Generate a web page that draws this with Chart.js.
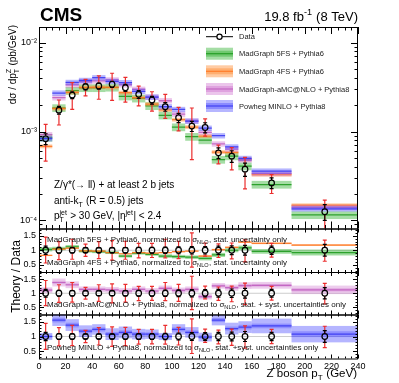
<!DOCTYPE html>
<html lang="en">
<head>
<meta charset="UTF-8">
<title>Z + 2 b jets, Z boson pT</title>
<script src="https://cdn.jsdelivr.net/npm/chart.js@4.4.0/dist/chart.umd.min.js"></script>
<style>
    body{ margin:0; background:#fff; }
    #wrap{ position:relative; width:399px; height:383px; }
    #wrap canvas{ position:absolute; left:0; top:0; }
</style>
</head>
<body>
<div id="wrap">
    <canvas id="main" width="399" height="383"></canvas>
    <canvas id="r1" width="399" height="383"></canvas>
    <canvas id="r2" width="399" height="383"></canvas>
    <canvas id="r3" width="399" height="383"></canvas>
</div>
<script>
// bins in Z pT (GeV)
var binLo  = [0,10,20,30,40,50,60,70,80,90,100,110,120,130,140,150,160,190];
var binHi  = [10,20,30,40,50,60,70,80,90,100,110,120,130,140,150,160,190,240];
var binMid = [5,15,25,35,45,55,65,75,85,95,105,115,125,135,145,155,175,215];

// data, pb/GeV, with relative errors
var dataVal = [8.28e-4,1.74e-3,2.57e-3,3.19e-3,3.25e-3,3.40e-3,3.11e-3,2.62e-3,2.26e-3,1.90e-3,1.43e-3,1.15e-3,1.11e-3,5.75e-4,5.28e-4,3.77e-4,2.64e-4,1.25e-4];
var totUp   = [0.45,0.30,0.38,0.21,0.30,0.33,0.31,0.24,0.24,0.38,0.31,0.60,0.25,0.22,0.25,0.36,0.24,0.35];
var totDn   = [0.44,0.32,0.31,0.21,0.29,0.34,0.31,0.26,0.25,0.26,0.29,0.58,0.20,0.25,0.30,0.40,0.24,0.38];
var statErr = [0.14,0.10,0.09,0.08,0.08,0.08,0.09,0.10,0.10,0.11,0.12,0.13,0.13,0.14,0.15,0.17,0.14,0.20];

// predictions in the top panel
var mg5Main    = [8.55e-4,1.84e-3,2.88e-3,3.09e-3,3.09e-3,3.13e-3,2.49e-3,2.36e-3,1.94e-3,1.52e-3,1.12e-3,8.74e-4,8.0e-4,4.83e-4,5.28e-4,4.07e-4,2.53e-4,1.15e-4];
var mg4Main    = [6.81e-4,1.81e-3,2.75e-3,3.13e-3,3.15e-3,3.13e-3,2.74e-3,2.41e-3,2.03e-3,1.75e-3,1.36e-3,1.12e-3,8.88e-4,5.87e-4,5.81e-4,4.83e-4,3.27e-4,1.48e-4];
var amcMain    = [9.21e-4,2.40e-3,3.34e-3,3.64e-3,3.71e-3,3.81e-3,3.36e-3,2.99e-3,2.44e-3,2.22e-3,1.57e-3,1.31e-3,9.77e-4,7.25e-4,6.34e-4,4.79e-4,3.38e-4,1.40e-4];
var powhegMain = [8.30e-4,2.71e-3,3.57e-3,3.76e-3,4.03e-3,3.67e-3,3.55e-3,2.83e-3,2.44e-3,1.90e-3,1.77e-3,1.31e-3,1.09e-3,8.97e-4,6.71e-4,4.98e-4,3.59e-4,1.35e-4];
var mainBandUnc = [0.10, 0.05, 0.07, 0.07]; // mg5, mg4, amc, powheg

// theory / data
var mg5Ratio    = [1.03,1.06,1.12,0.97,0.95,0.92,0.80,0.90,0.86,0.80,0.78,0.76,0.72,0.84,1.00,1.08,0.96,0.92];
var mg4Ratio    = [0.82,1.04,1.07,0.98,0.97,0.92,0.88,0.92,0.90,0.92,0.95,0.97,0.80,1.02,1.10,1.28,1.24,1.18];
var amcRatio    = [1.11,1.38,1.30,1.14,1.14,1.12,1.08,1.14,1.08,1.17,1.10,1.14,0.88,1.26,1.20,1.27,1.28,1.12];
var powhegRatio = [1.00,1.56,1.39,1.18,1.24,1.08,1.14,1.08,1.08,1.00,1.24,1.14,0.98,1.56,1.27,1.32,1.36,1.08];
var mg5Unc     = [0.07,0.06,0.06,0.05,0.05,0.05,0.05,0.05,0.05,0.06,0.06,0.06,0.07,0.07,0.07,0.08,0.08,0.10];
var mg4Unc     = [0.02,0.02,0.02,0.02,0.02,0.02,0.02,0.02,0.02,0.02,0.02,0.02,0.03,0.03,0.03,0.03,0.03,0.03];
var amcTot     = [0.10,0.14,0.12,0.10,0.10,0.10,0.10,0.10,0.10,0.10,0.10,0.10,0.10,0.10,0.11,0.12,0.12,0.15];
var amcStat    = [0.05,0.06,0.05,0.04,0.04,0.04,0.04,0.04,0.04,0.04,0.05,0.05,0.05,0.05,0.05,0.06,0.05,0.06];
var powhegTot  = [0.12,0.20,0.20,0.20,0.18,0.20,0.20,0.18,0.16,0.12,0.18,0.18,0.15,0.18,0.20,0.20,0.25,0.28];
var powhegStat = [0.06,0.08,0.08,0.07,0.07,0.07,0.07,0.07,0.06,0.06,0.07,0.07,0.06,0.07,0.07,0.08,0.08,0.10];

// axes
var xTicks = [0,20,40,60,80,100,120,140,160,180,200,220,240];
var mainYTicks = [1e-4, 1e-3, 1e-2];
var mainYLabels = ['10\u207B\u2074', '10\u207B\u00B3', '10\u207B\u00B2'];
var ratioTicks = [0.5, 1, 1.5];

var FONT = "'Liberation Sans', Arial, Helvetica, sans-serif";
var LEFT = 39, RIGHT = 358;

var GREEN  = { fill:'rgba(40,175,40,0.42)',  line:'rgba(25,150,25,0.85)' };
var ORANGE = { fill:'rgba(255,140,50,0.45)', line:'rgba(255,115,30,0.85)' };
var PINK   = { fill:'rgba(205,110,205,0.4)', line:'rgba(190,90,190,0.85)' };
var BLUE   = { fill:'rgba(80,80,255,0.42)',  line:'rgba(50,50,240,0.85)' };

// ---- text with sub/superscripts ----
function segWidth(ctx, segs, size) {
    var w = 0;
    segs.forEach(function (s) {
        if (typeof s === 'string') {
            ctx.font = size + 'px ' + FONT;
            w += ctx.measureText(s).width;
        } else {
            ctx.font = (size * 0.7) + 'px ' + FONT;
            var a = s.sub ? ctx.measureText(s.sub).width : 0;
            var b = s.sup ? ctx.measureText(s.sup).width : 0;
            w += Math.max(a, b) + 0.5;
        }
    });
    return w;
}
function richText(ctx, x, y, segs, size, align, color) {
    var w = segWidth(ctx, segs, size);
    var cx = align === 'right' ? x - w : (align === 'center' ? x - w / 2 : x);
    ctx.fillStyle = color || '#000';
    ctx.textBaseline = 'alphabetic';
    ctx.textAlign = 'left';
    segs.forEach(function (s) {
        if (typeof s === 'string') {
            ctx.font = size + 'px ' + FONT;
            ctx.fillText(s, cx, y);
            cx += ctx.measureText(s).width;
        } else {
            ctx.font = (size * 0.7) + 'px ' + FONT;
            var a = 0, b = 0;
            if (s.sub) { ctx.fillText(s.sub, cx, y + size * 0.3); a = ctx.measureText(s.sub).width; }
            if (s.sup) { ctx.fillText(s.sup, cx, y - size * 0.42); b = ctx.measureText(s.sup).width; }
            cx += Math.max(a, b) + 0.5;
        }
    });
}
function rotText(ctx, x, y, segs, size, align) {
    ctx.save();
    ctx.translate(x, y);
    ctx.rotate(-Math.PI / 2);
    richText(ctx, 0, 0, segs, size, align);
    ctx.restore();
}

// ---- drawing helpers ----
function band(ctx, xs, ys, i, lo, hi, fill) {
    var x1 = xs.getPixelForValue(binLo[i]), x2 = xs.getPixelForValue(binHi[i]);
    var yT = ys.getPixelForValue(hi), yB = ys.getPixelForValue(lo);
    ctx.fillStyle = fill;
    ctx.fillRect(x1, yT, x2 - x1, yB - yT);
}
function centerLine(ctx, xs, ys, i, v, color, lw) {
    var x1 = xs.getPixelForValue(binLo[i]), x2 = xs.getPixelForValue(binHi[i]);
    var y = ys.getPixelForValue(v);
    ctx.strokeStyle = color;
    ctx.lineWidth = lw;
    ctx.beginPath(); ctx.moveTo(x1, y); ctx.lineTo(x2, y); ctx.stroke();
}
function errBar(ctx, x, yc, yT, yB, color, r) {
    ctx.strokeStyle = color;
    ctx.lineWidth = 1.2;
    ctx.beginPath();
    if (yc - r > yT) { ctx.moveTo(x, yT); ctx.lineTo(x, yc - r); }
    if (yc + r < yB) { ctx.moveTo(x, yc + r); ctx.lineTo(x, yB); }
    ctx.moveTo(x - 2, yT); ctx.lineTo(x + 2, yT);
    ctx.moveTo(x - 2, yB); ctx.lineTo(x + 2, yB);
    ctx.stroke();
}
function dataErrors(chart, center) {
    var ctx = chart.ctx, xs = chart.scales.x, ys = chart.scales.y;
    binMid.forEach(function (m, i) {
        var c = center(i);
        var x = xs.getPixelForValue(m), yc = ys.getPixelForValue(c);
        errBar(ctx, x, yc, ys.getPixelForValue(c * (1 + totUp[i])), ys.getPixelForValue(c * (1 - totDn[i])), 'rgb(235,45,45)', 3);
        errBar(ctx, x, yc, ys.getPixelForValue(c * (1 + statErr[i])), ys.getPixelForValue(c * (1 - statErr[i])), '#000', 3);
    });
}
function frameTicks(chart, yMaj, yMin, xMajLen, yMajLen) {
    var ctx = chart.ctx, a = chart.chartArea, xs = chart.scales.x, ys = chart.scales.y;
    ctx.save();
    ctx.strokeStyle = '#000';
    ctx.lineWidth = 1;
    ctx.beginPath();
    function vx(v, len) {
        var p = Math.round(xs.getPixelForValue(v)) + 0.5;
        ctx.moveTo(p, a.bottom); ctx.lineTo(p, a.bottom - len);
        ctx.moveTo(p, a.top); ctx.lineTo(p, a.top + len);
    }
    function hy(v, len) {
        var p = Math.round(ys.getPixelForValue(v)) + 0.5;
        ctx.moveTo(a.left, p); ctx.lineTo(a.left + len, p);
        ctx.moveTo(a.right, p); ctx.lineTo(a.right - len, p);
    }
    for (var v = 0; v <= 240; v += 5) vx(v, xTicks.indexOf(v) >= 0 ? xMajLen : xMajLen / 2);
    yMaj.forEach(function (v) { hy(v, yMajLen); });
    yMin.forEach(function (v) { hy(v, yMajLen / 2); });
    ctx.stroke();
    ctx.lineWidth = 1;
    ctx.strokeRect(a.left + 0.5, a.top + 0.5, a.right - a.left - 1, a.bottom - a.top);
    ctx.restore();
}
function clipArea(chart) {
    var a = chart.chartArea;
    chart.ctx.save();
    chart.ctx.beginPath();
    chart.ctx.rect(a.left, a.top, a.right - a.left, a.bottom - a.top);
    chart.ctx.clip();
}
function unityLine(chart) {
    var ctx = chart.ctx, a = chart.chartArea, y = chart.scales.y.getPixelForValue(1);
    ctx.strokeStyle = 'rgb(205,205,205)';
    ctx.lineWidth = 1;
    ctx.beginPath(); ctx.moveTo(a.left, y); ctx.lineTo(a.right, y); ctx.stroke();
}

// ---- panel factory ----
function makePanel(id, top, bottom, showX, yScale, points, plugin) {
    var xAxisH = showX ? 14 : 0;
    yScale.grid = { display:false, drawTicks:false };
    yScale.border = { display:false };
    yScale.afterFit = function (s) { s.width = LEFT; };
    return new Chart(document.getElementById(id), {
        type: 'scatter',
        data: { datasets: [{
            data: points,
            pointRadius: 2.8,
            pointBorderWidth: 1.2,
            pointBorderColor: '#000',
            pointBackgroundColor: 'rgba(0,0,0,0)',
            clip: false
        }] },
        options: {
            responsive: false,
            animation: false,
            events: [],
            layout: { padding: { left: 0, top: top, right: 399 - RIGHT, bottom: 383 - bottom - xAxisH } },
            plugins: { legend: { display:false }, tooltip: { enabled:false } },
            scales: {
                x: {
                    type: 'linear', min: 0, max: 240, display: showX,
                    grid: { display:false, drawTicks:false }, border: { display:false },
                    afterBuildTicks: function (s) { s.ticks = xTicks.map(function (v) { return { value: v }; }); },
                    afterFit: function (s) { s.height = xAxisH; },
                    ticks: { font: { family: FONT, size: 9 }, color: '#000', padding: 3, maxRotation: 0, autoSkip: false }
                },
                y: yScale
            }
        },
        plugins: [plugin]
    });
}

function ratioScale() {
    return {
        type: 'linear', min: 0.25, max: 1.75,
        afterBuildTicks: function (s) { s.ticks = ratioTicks.map(function (v) { return { value: v }; }); },
        ticks: { font: { family: FONT, size: 9 }, color: '#000', padding: 3, callback: function (v) { return String(v); } }
    };
}
var ratioMinor = [];
for (var k = 3; k <= 17; k++) { if (k !== 5 && k !== 10 && k !== 15) ratioMinor.push(k / 10); }

var mainMinor = [];
[-5, -4, -3, -2].forEach(function (e) {
    for (var m = 2; m <= 9; m++) {
        var v = m * Math.pow(10, e);
        if (v > 8.1e-5 && v < 0.015) mainMinor.push(v);
    }
});

var unitPoints = binMid.map(function (m) { return { x: m, y: 1 }; });
var NLO = { sub: 'NLO' };

// ---- top panel ----
var mainModels = [
    { vals: mg5Main, c: GREEN },
    { vals: mg4Main, c: ORANGE },
    { vals: amcMain, c: PINK },
    { vals: powhegMain, c: BLUE }
];
makePanel('main', 27, 228.5, false, {
    type: 'logarithmic', min: 8.1e-5, max: 0.015,
    afterBuildTicks: function (s) { s.ticks = mainYTicks.map(function (v) { return { value: v }; }); },
    ticks: { font: { family: FONT, size: 9 }, color: '#000', padding: 2,
        callback: function (v, i) { return mainYLabels[i]; } }
}, binMid.map(function (m, i) { return { x: m, y: dataVal[i] }; }), {
    id: 'mainDecor',
    beforeDatasetsDraw: function (chart) {
        var ctx = chart.ctx, xs = chart.scales.x, ys = chart.scales.y;
        clipArea(chart);
        mainModels.forEach(function (md, j) {
            md.vals.forEach(function (v, i) {
                band(ctx, xs, ys, i, v * (1 - mainBandUnc[j]), v * (1 + mainBandUnc[j]), md.c.fill);
                centerLine(ctx, xs, ys, i, v, md.c.line, 1.3);
            });
        });
        dataErrors(chart, function (i) { return dataVal[i]; });
        ctx.restore();
    },
    afterDraw: function (chart) {
        var ctx = chart.ctx;
        frameTicks(chart, mainYTicks, mainMinor, 7, 7);
        ctx.save();
        ctx.fillStyle = '#000';
        ctx.font = 'bold 19px ' + FONT;
        ctx.textAlign = 'left';
        ctx.fillText('CMS', 40, 20.5);
        richText(ctx, 358, 20.5, ['19.8 fb', { sup: '-1' }, ' (8 TeV)'], 13, 'right');
        rotText(ctx, 15.5, 25, ['d\u03C3 / dp', { sub: 'T', sup: 'Z' }, ' (pb/GeV)'], 10, 'right');
        rotText(ctx, 19.5, 276.5, ['Theory / Data'], 12, 'center');
        richText(ctx, 357, 377, ['Z boson p', { sub: 'T' }, ' (GeV)'], 11.5, 'right');
        richText(ctx, 54, 188, ['Z/\u03B3*(\u2192 ll) + at least 2 b jets'], 10, 'left');
        richText(ctx, 54, 203.5, ['anti-k', { sub: 'T' }, ' (R = 0.5) jets'], 10, 'left');
        richText(ctx, 54, 219, ['p', { sub: 'T', sup: 'jet' }, ' > 30 GeV, |\u03B7', { sup: 'jet' }, '| < 2.4'], 10, 'left');

        // legend
        var ly = [36.7, 53.7, 71.3, 89, 106];
        ctx.strokeStyle = '#000';
        ctx.lineWidth = 1;
        ctx.beginPath(); ctx.moveTo(206, ly[0]); ctx.lineTo(233, ly[0]); ctx.stroke();
        ctx.fillStyle = '#fff';
        ctx.lineWidth = 1.2;
        ctx.beginPath(); ctx.arc(219.5, ly[0], 2.6, 0, Math.PI * 2); ctx.fill(); ctx.stroke();
        var cols = [GREEN, ORANGE, PINK, BLUE];
        cols.forEach(function (c, j) {
            var y = ly[j + 1];
            ctx.fillStyle = c.fill;
            ctx.fillRect(206, y - 6, 27, 12);
            ctx.fillRect(206, y - 3, 27, 6);
            ctx.strokeStyle = c.line;
            ctx.lineWidth = 1.2;
            ctx.beginPath(); ctx.moveTo(206, y); ctx.lineTo(233, y); ctx.stroke();
        });
        var names = ['Data', 'MadGraph 5FS + Pythia6', 'MadGraph 4FS + Pythia6', 'MadGraph-aMC@NLO + Pythia8', 'Powheg MINLO + Pythia8'];
        names.forEach(function (n, j) { richText(ctx, 239, ly[j] + 2.7, [n], 7.5, 'left', '#222'); });
        ctx.restore();
    }
});

// ---- ratio 1: MadGraph 5FS / 4FS ----
makePanel('r1', 228.5, 272, false, ratioScale(), unitPoints, {
    id: 'r1Decor',
    beforeDatasetsDraw: function (chart) {
        var ctx = chart.ctx, xs = chart.scales.x, ys = chart.scales.y;
        clipArea(chart);
        unityLine(chart);
        mg5Ratio.forEach(function (v, i) {
            band(ctx, xs, ys, i, v - mg5Unc[i], v + mg5Unc[i], 'rgba(40,175,40,0.45)');
            centerLine(ctx, xs, ys, i, v, GREEN.line, 1.2);
        });
        mg4Ratio.forEach(function (v, i) {
            band(ctx, xs, ys, i, v - mg4Unc[i], v + mg4Unc[i], 'rgba(255,140,50,0.5)');
            centerLine(ctx, xs, ys, i, v, ORANGE.line, 1.2);
        });
        dataErrors(chart, function () { return 1; });
        ctx.restore();
    },
    afterDraw: function (chart) {
        frameTicks(chart, ratioTicks, ratioMinor, 4, 5);
        richText(chart.ctx, 47, 241.5, ['MadGraph 5FS + Pythia6, normalized to \u03C3', NLO, ', stat. uncertainty only'], 8, 'left', '#111');
        richText(chart.ctx, 47, 264.5, ['MadGraph 4FS + Pythia6, normalized to \u03C3', NLO, ', stat. uncertainty only'], 8, 'left', '#111');
    }
});

// ---- ratio 2: aMC@NLO ----
makePanel('r2', 272, 314.5, false, ratioScale(), unitPoints, {
    id: 'r2Decor',
    beforeDatasetsDraw: function (chart) {
        var ctx = chart.ctx, xs = chart.scales.x, ys = chart.scales.y;
        clipArea(chart);
        unityLine(chart);
        amcRatio.forEach(function (v, i) {
            band(ctx, xs, ys, i, v - amcTot[i], v + amcTot[i], 'rgba(210,130,210,0.4)');
            band(ctx, xs, ys, i, v - amcStat[i], v + amcStat[i], 'rgba(200,100,200,0.3)');
            centerLine(ctx, xs, ys, i, v, PINK.line, 1.2);
        });
        dataErrors(chart, function () { return 1; });
        ctx.restore();
    },
    afterDraw: function (chart) {
        frameTicks(chart, ratioTicks, ratioMinor, 4, 5);
        richText(chart.ctx, 47, 307, ['MadGraph-aMC@NLO + Pythia8, normalized to \u03C3', NLO, ', stat. + syst. uncertainties only'], 8, 'left', '#111');
    }
});

// ---- ratio 3: Powheg MINLO ----
makePanel('r3', 314.5, 358.5, true, ratioScale(), unitPoints, {
    id: 'r3Decor',
    beforeDatasetsDraw: function (chart) {
        var ctx = chart.ctx, xs = chart.scales.x, ys = chart.scales.y;
        clipArea(chart);
        unityLine(chart);
        powhegRatio.forEach(function (v, i) {
            band(ctx, xs, ys, i, v - powhegTot[i], v + powhegTot[i], 'rgba(90,90,255,0.45)');
            band(ctx, xs, ys, i, v - powhegStat[i], v + powhegStat[i], 'rgba(60,60,255,0.3)');
            centerLine(ctx, xs, ys, i, v, BLUE.line, 1.2);
        });
        dataErrors(chart, function () { return 1; });
        ctx.restore();
    },
    afterDraw: function (chart) {
        frameTicks(chart, ratioTicks, ratioMinor, 4, 5);
        richText(chart.ctx, 47, 350, ['Powheg MINLO + Pythia8, normalized to \u03C3', NLO, ', stat. +syst. uncertainties only'], 8, 'left', '#111');
    }
});
</script>
</body>
</html>
